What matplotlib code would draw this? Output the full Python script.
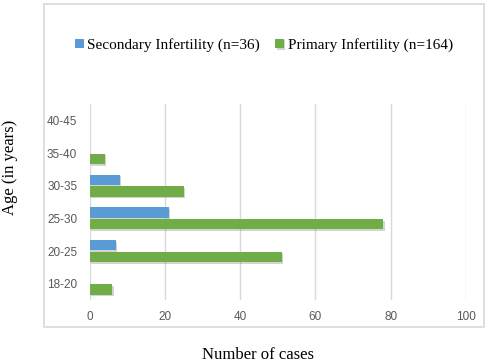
import matplotlib
matplotlib.use("Agg")
import matplotlib.pyplot as plt
import matplotlib.patheffects as pe
from matplotlib.patches import Rectangle
import numpy as np

age_groups = ["18-20", "20-25", "25-30", "30-35", "35-40", "40-45"]
secondary = [0, 7, 21, 8, 0, 0]
primary = [6, 51, 78, 25, 4, 0]
x_ticks = [0, 20, 40, 60, 80, 100]

blue = "#5B9BD5"
green = "#70AD47"
grid_color = "#d9d9d9"
tick_color = "#595959"

W, H = 489, 364
fig = plt.figure(figsize=(W / 100, H / 100), dpi=100)

# chart frame
fig.patches.append(Rectangle((44 / W, 1 - 327 / H), 440 / W, 323 / H,
                             transform=fig.transFigure, fill=False,
                             edgecolor="#d9d9d9", linewidth=1.2))

ax = fig.add_axes([89.7 / W, 1 - 300 / H, (466 - 89.7) / W, (300 - 104) / H])

y = np.arange(len(age_groups))
h = 0.31
shadow = [pe.SimplePatchShadow(offset=(1, -1.2), alpha=0.2), pe.Normal()]
b1 = ax.barh(y + 0.18, secondary, height=h, color=blue, label="Secondary Infertility (n=36)")
b2 = ax.barh(y - 0.18, primary, height=h, color=green, label="Primary Infertility (n=164)")
for bar in list(b1) + list(b2):
    if bar.get_width() > 0:
        bar.set_path_effects(shadow)

ax.set_xlim(0, 100)
ax.set_ylim(-0.5, len(age_groups) - 0.5)
ax.set_xticks(x_ticks)
ax.set_yticks(y)
ax.set_yticklabels(age_groups)
ax.grid(axis="x", color=grid_color, linewidth=1)
ax.set_axisbelow(True)
for s in ax.spines.values():
    s.set_visible(False)
ax.tick_params(length=0, labelsize=8.5, labelcolor=tick_color, pad=8)
ax.tick_params(axis="y", pad=9)
for lab in ax.get_xticklabels() + ax.get_yticklabels():
    lab.set_fontfamily("Liberation Sans")

fig.legend(handles=[b1, b2], loc="center", bbox_to_anchor=(264 / W, 1 - 45 / H),
           ncol=2, frameon=False, handlelength=0.55, handleheight=0.55,
           handletextpad=0.25, columnspacing=1.0,
           prop={"family": "Liberation Serif", "size": 11})

fig.text(258 / W, 1 - 355 / H, "Number of cases", ha="center", va="center",
         family="Liberation Serif", fontsize=12)
fig.text(10 / W, 1 - 167 / H, "Age (in years)", ha="center", va="center",
         rotation=90, family="Liberation Serif", fontsize=12)

fig.savefig("out.png", dpi=100)
